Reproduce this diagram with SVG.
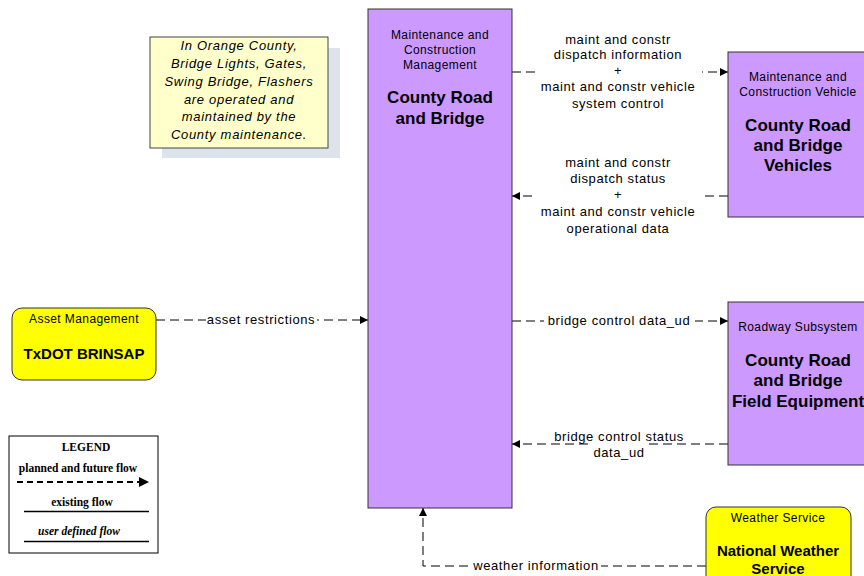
<svg xmlns="http://www.w3.org/2000/svg" width="864" height="576" viewBox="0 0 864 576">
<defs>
<marker id="arr" viewBox="0 0 10 10" refX="10" refY="5" markerWidth="8" markerHeight="8" markerUnits="userSpaceOnUse" orient="auto">
<path d="M0,0 L10,5 L0,10 z" fill="#000"/>
</marker>
<marker id="arrL" viewBox="0 0 10 10" refX="10" refY="5" markerWidth="10" markerHeight="10" markerUnits="userSpaceOnUse" orient="auto">
<path d="M0,0 L10,5 L0,10 z" fill="#000"/>
</marker>
<style>
.purple{fill:#cc99ff;stroke:#333;stroke-width:1}
.yellow{fill:#ffff00;stroke:#333;stroke-width:1}
.sub{font-family:"Liberation Sans",Arial,sans-serif;font-size:12px;letter-spacing:0.4px;text-anchor:middle;fill:#000}
.title{font-family:"Liberation Sans",Arial,sans-serif;font-size:17px;font-weight:bold;text-anchor:middle;fill:#000}
.ytitle{font-family:"Liberation Sans",Arial,sans-serif;font-size:15px;font-weight:bold;text-anchor:middle;fill:#000}
.flow{fill:none;stroke:#000;stroke-width:1;stroke-dasharray:9 5}
.lbl{font-family:"Liberation Sans",Arial,sans-serif;font-size:13px;letter-spacing:0.6px;text-anchor:middle;fill:#000}
.note{font-family:"Liberation Sans",Arial,sans-serif;font-size:13px;font-style:italic;letter-spacing:0.7px;text-anchor:middle;fill:#000}
.leg{font-family:"Liberation Serif","Times New Roman",serif;font-size:11.5px;font-weight:bold;text-anchor:middle;fill:#000}
.bg{fill:#fff}
</style>
</defs>
<rect width="864" height="576" fill="#fff"/>

<g id="note">
<rect x="162" y="48" width="178" height="110" fill="#dde3ea"/>
<rect x="150" y="37" width="178" height="111" fill="#ffffcc" stroke="#444" stroke-width="1"/>
<text class="note" x="239" y="50">In Orange County,</text>
<text class="note" x="239" y="68">Bridge Lights, Gates,</text>
<text class="note" x="239" y="86">Swing Bridge, Flashers</text>
<text class="note" x="239" y="104">are operated and</text>
<text class="note" x="239" y="121">maintained by the</text>
<text class="note" x="239" y="139">County maintenance.</text>
</g>

<g id="connectors">
<!-- dispatch info -->
<g>
<line class="flow" x1="512" y1="72" x2="728" y2="72" marker-end="url(#arr)"/>
<rect class="bg" x="536" y="30" width="166" height="82"/>
<text class="lbl" x="618" y="44">maint and constr</text>
<text class="lbl" x="618" y="59">dispatch information</text>
<text class="lbl" x="618" y="75">+</text>
<text class="lbl" x="618" y="91">maint and constr vehicle</text>
<text class="lbl" x="618" y="108">system control</text>
</g>
<!-- dispatch status -->
<g>
<line class="flow" x1="728" y1="196" x2="512" y2="196" marker-end="url(#arr)"/>
<rect class="bg" x="536" y="154" width="166" height="82"/>
<text class="lbl" x="618" y="167">maint and constr</text>
<text class="lbl" x="618" y="183">dispatch status</text>
<text class="lbl" x="618" y="199">+</text>
<text class="lbl" x="618" y="216">maint and constr vehicle</text>
<text class="lbl" x="618" y="233">operational data</text>
</g>
<!-- bridge control data -->
<g>
<line class="flow" x1="512" y1="321" x2="728" y2="321" marker-end="url(#arr)"/>
<rect class="bg" x="544" y="313" width="151" height="16"/>
<text class="lbl" x="619" y="325">bridge control data_ud</text>
</g>
<!-- bridge control status -->
<g>
<line class="flow" x1="728" y1="444" x2="512" y2="444" marker-end="url(#arr)"/>
<rect class="bg" x="550" y="428" width="140" height="14"/>
<rect class="bg" x="590" y="442" width="58" height="16"/>
<text class="lbl" x="619" y="441">bridge control status</text>
<text class="lbl" x="619" y="457">data_ud</text>
</g>
<!-- asset restrictions -->
<g>
<line class="flow" x1="156" y1="320" x2="368" y2="320" marker-end="url(#arr)"/>
<rect class="bg" x="206" y="312" width="111" height="16"/>
<text class="lbl" x="261" y="324">asset restrictions</text>
</g>
<!-- weather information -->
<g>
<polyline class="flow" points="706,566 423,566 423,508" marker-end="url(#arr)"/>
<rect class="bg" x="470" y="558" width="131" height="16"/>
<text class="lbl" x="536" y="570">weather information</text>
</g>
</g>

<g id="mcm">
<rect class="purple" x="368" y="9" width="144" height="499"/>
<text class="sub" x="440" y="39">Maintenance and</text>
<text class="sub" x="440" y="54">Construction</text>
<text class="sub" x="440" y="69">Management</text>
<text class="title" x="440" y="103">County Road</text>
<text class="title" x="440" y="124">and Bridge</text>
</g>

<g id="vehicles">
<rect class="purple" x="728" y="52" width="142" height="165"/>
<text class="sub" x="798" y="81">Maintenance and</text>
<text class="sub" x="798" y="96">Construction Vehicle</text>
<text class="title" x="798" y="131">County Road</text>
<text class="title" x="798" y="151">and Bridge</text>
<text class="title" x="798" y="171">Vehicles</text>
</g>

<g id="field">
<rect class="purple" x="728" y="302" width="142" height="163"/>
<text class="sub" x="798" y="331">Roadway Subsystem</text>
<text class="title" x="798" y="366">County Road</text>
<text class="title" x="798" y="386">and Bridge</text>
<text class="title" x="798" y="407">Field Equipment</text>
</g>

<g id="asset">
<rect class="yellow" x="12" y="308" width="144" height="72" rx="10"/>
<text class="sub" x="84" y="323">Asset Management</text>
<text class="ytitle" x="84" y="359">TxDOT BRINSAP</text>
</g>

<g id="weather">
<rect class="yellow" x="706" y="507" width="145" height="90" rx="10"/>
<text class="sub" x="778" y="522">Weather Service</text>
<text class="ytitle" x="778" y="556">National Weather</text>
<text class="ytitle" x="778" y="574">Service</text>
</g>

<g id="legend">
<rect x="9" y="436" width="149" height="117" fill="#fff" stroke="#000" stroke-width="1"/>
<text class="leg" x="86" y="451">LEGEND</text>
<text class="leg" x="78" y="472">planned and future flow</text>
<line x1="17" y1="482" x2="140" y2="482" stroke="#000" stroke-width="2" stroke-dasharray="6 4"/>
<path d="M139,477 L149,482 L139,487 z" fill="#000"/>
<text class="leg" x="82" y="506">existing flow</text>
<line x1="24" y1="511.5" x2="149" y2="511.5" stroke="#000" stroke-width="1.5"/>
<text class="leg" x="79" y="535" font-style="italic">user defined flow</text>
<line x1="24" y1="541.5" x2="149" y2="541.5" stroke="#000" stroke-width="1.5"/>
</g>
</svg>
